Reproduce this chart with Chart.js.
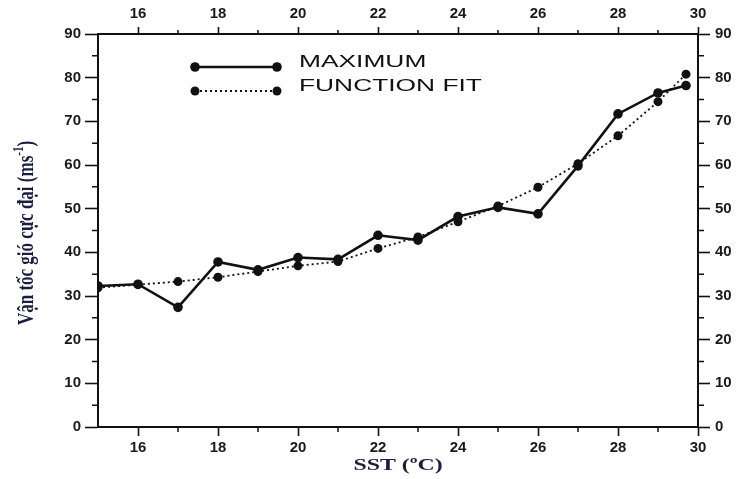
<!DOCTYPE html>
<html>
<head>
<meta charset="utf-8">
<script src="https://cdn.jsdelivr.net/npm/chart.js@4/dist/chart.umd.min.js"></script>
<style>
  html, body { margin: 0; padding: 0; background: #fff; }
  #wrap { width: 736px; height: 479px; position: relative; }
</style>
</head>
<body>
<div id="wrap"><canvas id="c"></canvas></div>
<script>
// Sea surface temperature (°C) and maximum wind speed (m/s)
const sst = [15, 16, 17, 18, 19, 20, 21, 22, 23, 24, 25, 26, 27, 28, 29, 29.7];
const maximum = [32.3, 32.7, 27.4, 37.8, 36.0, 38.8, 38.4, 43.9, 42.8, 48.2, 50.3, 48.8, 59.8, 71.7, 76.5, 78.2];
const functionFit = [31.9, 32.6, 33.3, 34.3, 35.6, 36.9, 37.9, 40.9, 43.5, 47.0, 50.6, 54.9, 60.3, 66.7, 74.5, 80.8];

const xMajorTicks = [16, 18, 20, 22, 24, 26, 28, 30];
const xMinorTicks = [17, 19, 21, 23, 25, 27, 29];
const yMajorTicks = [0, 10, 20, 30, 40, 50, 60, 70, 80, 90];
const yMinorTicks = [5, 15, 25, 35, 45, 55, 65, 75, 85];

const seriesNames = ['MAXIMUM', 'FUNCTION FIT'];
const xTitle = 'SST (ºC)';
const yTitleMain = 'Vận tốc gió cực đại (ms';
const yTitleSup = '-1';
const yTitleEnd = ')';

const INK = '#111111';
const TITLE_INK = '#1a1c40';
const LABEL_FONT = { family: '"Liberation Sans", Arial, sans-serif', size: 15, weight: 'bold' };

function pts(values) {
  return sst.map((x, i) => ({ x: x, y: values[i] }));
}

function fixedTicks(list) {
  return scale => { scale.ticks = list.map(v => ({ value: v })); };
}

function axis(position, tickLen, pad, min, max, ticks, size) {
  const horizontal = position === 'top' || position === 'bottom';
  return {
    type: 'linear',
    position: position,
    min: min,
    max: max,
    afterBuildTicks: fixedTicks(ticks),
    afterFit: s => { if (horizontal) s.height = size; else s.width = size; },
    grid: { drawOnChartArea: false, drawTicks: true, tickLength: tickLen, tickWidth: 1.6, tickColor: INK },
    border: { display: true, color: INK, width: 2 },
    ticks: { color: '#1a1a1a', font: LABEL_FONT, padding: pad, autoSkip: false, maxRotation: 0 }
  };
}

// Short minor ticks on all four sides
const minorTicks = {
  id: 'minorTicks',
  afterDraw(chart) {
    const ctx = chart.ctx, a = chart.chartArea;
    const xs = chart.scales.x, ys = chart.scales.y;
    ctx.save();
    ctx.strokeStyle = INK;
    ctx.lineWidth = 1.5;
    ctx.beginPath();
    xMinorTicks.forEach(v => {
      const px = xs.getPixelForValue(v);
      ctx.moveTo(px, a.bottom); ctx.lineTo(px, a.bottom + 5);
      ctx.moveTo(px, a.top); ctx.lineTo(px, a.top - 4);
    });
    yMinorTicks.forEach(v => {
      const py = ys.getPixelForValue(v);
      ctx.moveTo(a.left - 6, py); ctx.lineTo(a.left, py);
      ctx.moveTo(a.right, py); ctx.lineTo(a.right + 6, py);
    });
    ctx.stroke();
    ctx.restore();
  }
};

// Legend in the upper left of the plot: line sample with end markers, then the name
const inlineLegend = {
  id: 'inlineLegend',
  afterDraw(chart) {
    const ctx = chart.ctx, a = chart.chartArea;
    ctx.save();
    chart.data.datasets.forEach((ds, i) => {
      const ly = a.top + 33 + i * 24;
      const x0 = a.left + 97, x1 = a.left + 179;
      ctx.strokeStyle = ds.borderColor;
      ctx.lineWidth = ds.borderWidth;
      ctx.setLineDash(ds.borderDash || []);
      ctx.beginPath(); ctx.moveTo(x0, ly); ctx.lineTo(x1, ly); ctx.stroke();
      ctx.setLineDash([]);
      ctx.fillStyle = ds.pointBackgroundColor;
      [x0, x1].forEach(px => { ctx.beginPath(); ctx.arc(px, ly, ds.pointRadius, 0, Math.PI * 2); ctx.fill(); });
      ctx.save();
      ctx.translate(a.left + 201, ly - 5);
      ctx.scale(1.55, 1);
      ctx.fillStyle = INK;
      ctx.font = '17px "Liberation Sans", Arial, sans-serif';
      ctx.textBaseline = 'middle';
      ctx.textAlign = 'left';
      ctx.fillText(ds.label, 0, 0);
      ctx.restore();
    });
    ctx.restore();
  }
};

// Axis titles (serif, bold), with a true superscript on the unit
const axisTitles = {
  id: 'axisTitles',
  afterDraw(chart) {
    const ctx = chart.ctx, a = chart.chartArea;
    ctx.save();
    ctx.fillStyle = TITLE_INK;
    ctx.textBaseline = 'middle';

    // x title
    ctx.save();
    ctx.translate((a.left + a.right) / 2, 466);
    ctx.scale(1.4, 1);
    ctx.font = 'bold 17px "Liberation Serif", "Times New Roman", serif';
    ctx.textAlign = 'center';
    ctx.fillText(xTitle, 0, 0);
    ctx.restore();

    // y title
    ctx.save();
    ctx.translate(27, 233);
    ctx.scale(1.3, 1);
    ctx.rotate(-Math.PI / 2);
    const mainFont = 'bold 17px "Liberation Serif", "Times New Roman", serif';
    const supFont = 'bold 11px "Liberation Serif", "Times New Roman", serif';
    ctx.font = mainFont; const w1 = ctx.measureText(yTitleMain).width; const w3 = ctx.measureText(yTitleEnd).width;
    ctx.font = supFont; const w2 = ctx.measureText(yTitleSup).width;
    let x = -(w1 + w2 + w3) / 2;
    ctx.textAlign = 'left';
    ctx.font = mainFont; ctx.fillText(yTitleMain, x, 0); x += w1;
    ctx.font = supFont; ctx.fillText(yTitleSup, x, -6); x += w2;
    ctx.font = mainFont; ctx.fillText(yTitleEnd, x, 0);
    ctx.restore();

    ctx.restore();
  }
};

new Chart(document.getElementById('c'), {
  type: 'line',
  data: {
    datasets: [
      {
        label: seriesNames[0],
        data: pts(maximum),
        borderColor: INK,
        borderWidth: 2.6,
        pointRadius: 4.8,
        pointBackgroundColor: INK,
        pointBorderWidth: 0,
        tension: 0,
        xAxisID: 'x', yAxisID: 'y'
      },
      {
        label: seriesNames[1],
        data: pts(functionFit),
        borderColor: INK,
        borderWidth: 1.8,
        borderDash: [2, 3],
        pointRadius: 4.5,
        pointBackgroundColor: INK,
        pointBorderWidth: 0,
        tension: 0,
        xAxisID: 'x', yAxisID: 'y'
      }
    ]
  },
  options: {
    responsive: true,
    maintainAspectRatio: false,
    animation: false,
    layout: { padding: 0 },
    plugins: { legend: { display: false }, tooltip: { enabled: false } },
    scales: {
      x: axis('bottom', 9, 3, 15, 30, xMajorTicks, 52),
      x2: axis('top', 7, 4, 15, 30, xMajorTicks, 34),
      y: axis('left', 13, 4, 0, 90, yMajorTicks, 98),
      y2: axis('right', 12, 5, 0, 90, yMajorTicks, 38)
    }
  },
  plugins: [minorTicks, inlineLegend, axisTitles]
});
</script>
</body>
</html>
